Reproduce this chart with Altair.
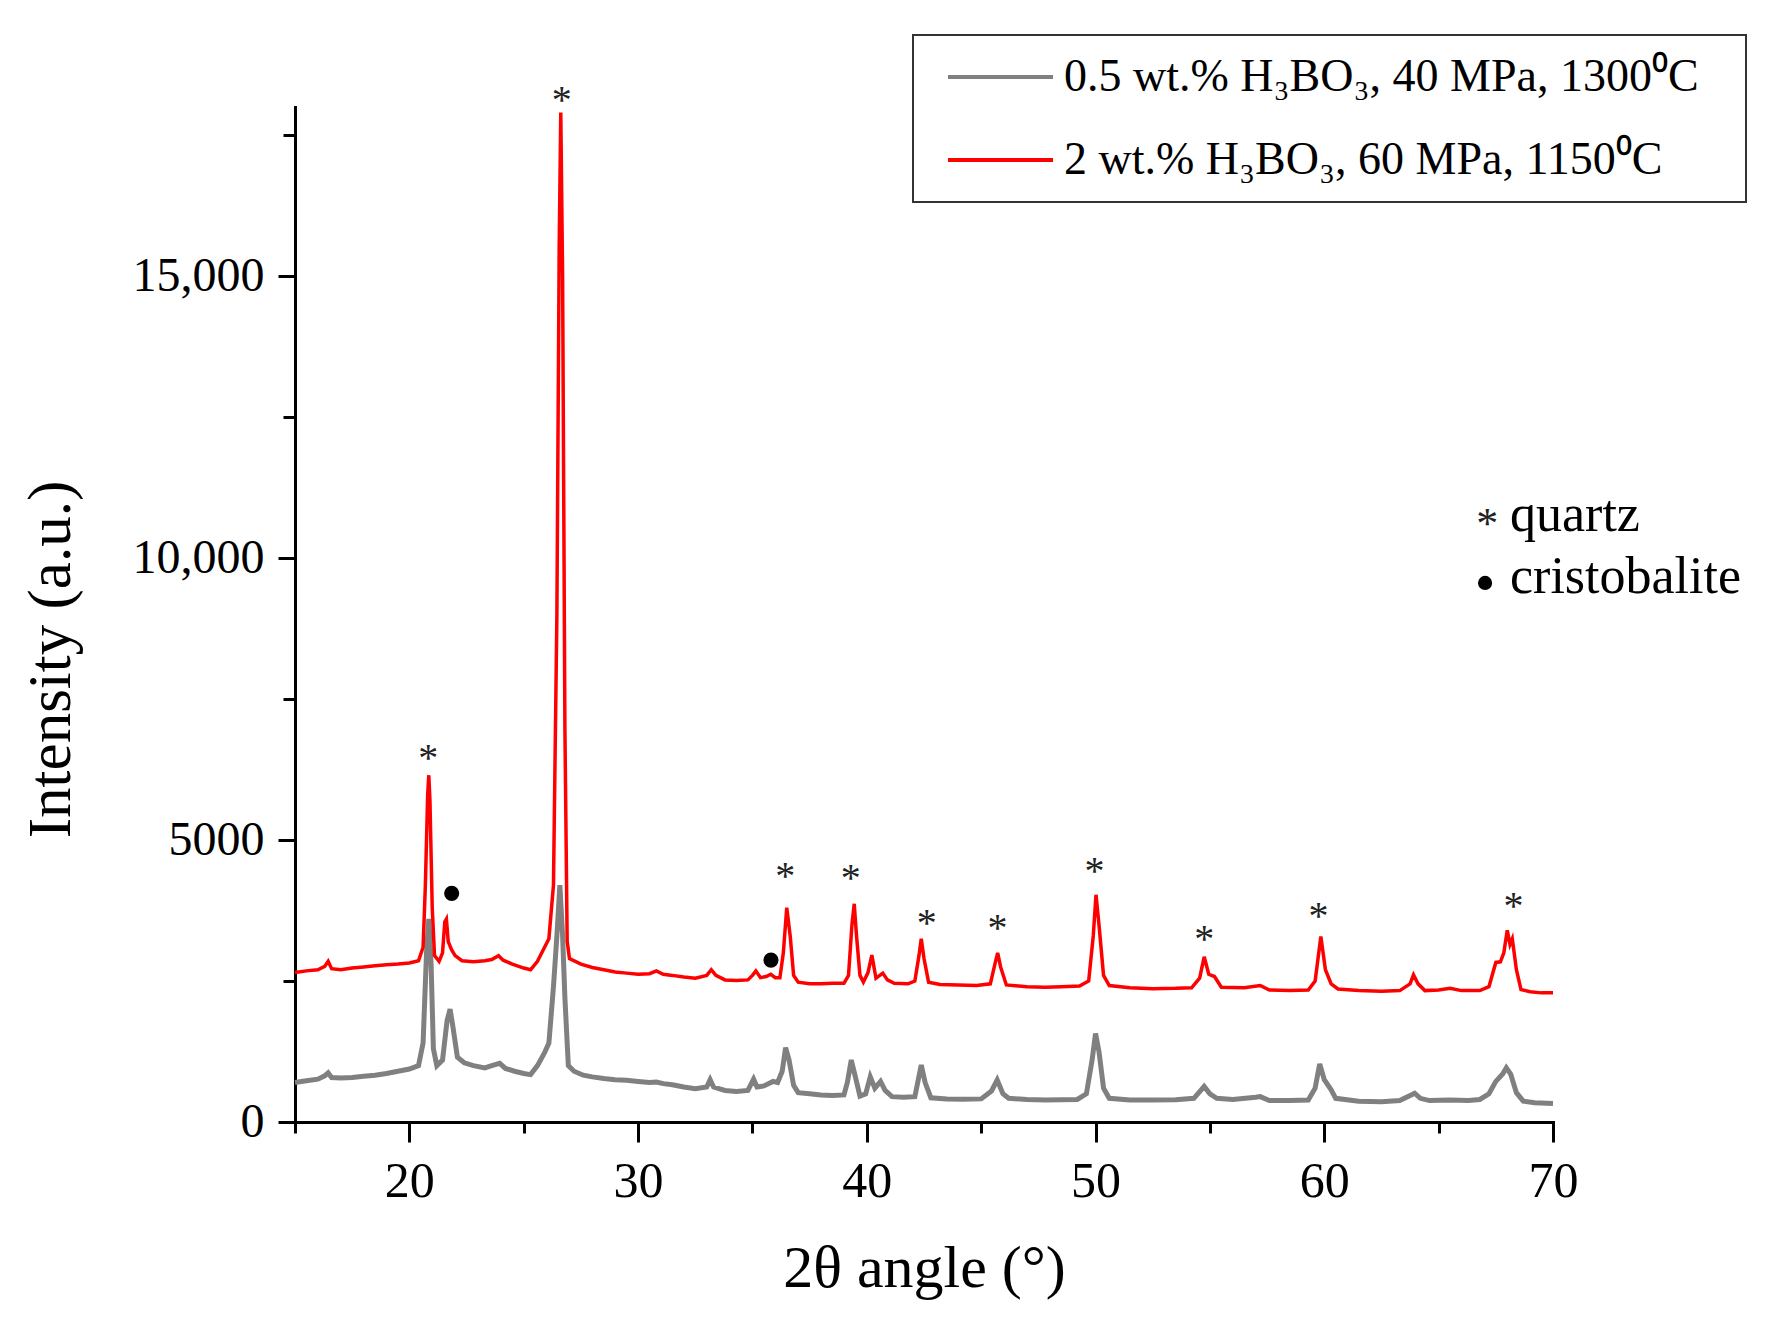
import altair as alt
import pandas as pd

SERIES = ["0.5 wt.% H₃BO₃, 40 MPa, 1300⁰C", "2 wt.% H₃BO₃, 60 MPa, 1150⁰C"]
COLORS = ["#808080", "#ff0000"]

gray_x = [15.0, 15.5, 16.0, 16.3, 16.45, 16.6, 17.0, 17.5, 18.0, 18.5, 19.0, 19.5, 20.0, 20.4, 20.6, 20.75,
          20.85, 20.95, 21.05, 21.2, 21.45, 21.65, 21.78, 21.9, 22.1, 22.4, 22.8, 23.3, 23.6, 23.95, 24.2,
          24.6, 25.0, 25.3, 25.6, 25.9, 26.1, 26.3, 26.45, 26.58, 26.7, 26.8, 26.95, 27.2, 27.6, 28.0, 28.5,
          29.0, 29.5, 30.0, 30.5, 30.8, 31.1, 31.5, 32.0, 32.5, 33.0, 33.15, 33.3, 33.8, 34.3, 34.8, 35.05,
          35.2, 35.5, 35.9, 36.1, 36.3, 36.45, 36.6, 36.8, 37.0, 37.5, 38.0, 38.5, 39.0, 39.15, 39.32, 39.5,
          39.7, 39.95, 40.15, 40.35, 40.6, 40.8, 41.1, 41.6, 42.1, 42.25, 42.38, 42.55, 42.8, 43.5, 44.2,
          45.0, 45.45, 45.7, 45.95, 46.2, 47.0, 47.8, 48.5, 49.2, 49.6, 49.85, 50.0, 50.15, 50.35, 50.6,
          51.5, 52.5, 53.5, 54.3, 54.6, 54.75, 55.0, 55.3, 56.0, 57.0, 57.2, 57.6, 58.5, 59.3, 59.6, 59.8,
          60.0, 60.3, 60.5, 61.5, 62.5, 63.3, 63.8, 63.95, 64.2, 64.6, 65.5, 66.3, 66.8, 67.2, 67.5, 67.8,
          67.96, 68.15, 68.4, 68.7, 69.2, 70.0]
gray_y = [700, 730, 760, 820, 870, 790, 780, 790, 810, 830, 860, 900, 940, 1000, 1400, 3000,
          3600, 2800, 1300, 1000, 1100, 1800, 2000, 1700, 1150, 1050, 1000, 960, 1000, 1040, 950,
          900, 860, 840, 1000, 1220, 1400, 2400, 3300, 4200, 3300, 2200, 1000, 900, 830, 800, 770,
          750, 740, 720, 700, 710, 680, 660, 620, 590, 620, 750, 620, 560, 540, 560, 760,
          620, 640, 720, 700, 900, 1320, 1100, 650, 520, 500, 480, 470, 480, 700, 1100, 800,
          460, 500, 800, 600, 720, 560, 450, 440, 450, 750, 1010, 700, 430, 410, 405,
          410, 550, 745, 500, 420, 400, 390, 395, 400, 500, 1100, 1570, 1250, 600, 420,
          390, 390, 395, 420, 560, 630, 500, 420, 400, 440, 450, 380, 380, 390, 600, 1030,
          750, 570, 420, 370, 360, 380, 480, 510, 420, 380, 390, 380, 400, 500, 720, 850,
          960, 850, 520, 370, 340, 330]

red_x = [15.0, 15.5, 16.0, 16.3, 16.45, 16.6, 17.0, 17.5, 18.0, 18.5, 19.0, 19.5, 20.0, 20.4, 20.6, 20.7,
         20.8, 20.85, 20.9, 21.0, 21.1, 21.3, 21.45, 21.55, 21.62, 21.7, 21.85, 22.0, 22.3, 22.8, 23.3,
         23.6, 23.9, 24.1, 24.5, 25.0, 25.3, 25.6, 25.85, 26.1, 26.3, 26.45, 26.55, 26.62, 26.7, 26.8,
         26.9, 27.0, 27.5, 28.0, 28.5, 29.0, 29.5, 30.0, 30.5, 30.8, 31.1, 31.5, 32.0, 32.5, 33.0, 33.2,
         33.4, 33.8, 34.3, 34.8, 35.0, 35.15, 35.35, 35.6, 35.8, 36.0, 36.2, 36.35, 36.5, 36.65, 36.8,
         37.0, 37.5, 38.0, 38.5, 39.0, 39.2, 39.35, 39.45, 39.55, 39.7, 39.85, 40.05, 40.22, 40.4, 40.7,
         40.9, 41.2, 41.8, 42.1, 42.28, 42.38, 42.5, 42.7, 43.2, 44.0, 44.8, 45.4, 45.6, 45.72, 45.85,
         46.1, 47.0, 47.8, 48.5, 49.3, 49.7, 49.9, 50.02, 50.15, 50.35, 50.6, 51.5, 52.5, 53.5, 54.2,
         54.55, 54.75, 54.95, 55.2, 55.5, 56.5, 57.2, 57.6, 58.5, 59.3, 59.6, 59.85, 60.05, 60.3, 60.6,
         61.5, 62.5, 63.3, 63.75, 63.9, 64.1, 64.4, 65.0, 65.5, 66.0, 66.8, 67.2, 67.5, 67.7, 67.85,
         68.0, 68.12, 68.22, 68.4, 68.6, 69.0, 69.5, 70.0]
red_y = [2650, 2680, 2700, 2760, 2850, 2720, 2700, 2730, 2750, 2770, 2790, 2800, 2820, 2860, 3100, 4200,
         5800, 6150, 5700, 3800, 2950, 2850, 3000, 3550, 3600, 3200, 3050, 2950, 2860, 2840, 2860,
         2880, 2950, 2870, 2800, 2730, 2700, 2850, 3050, 3250, 4200, 9000, 15500, 17900, 15000, 7000,
         3200, 2900, 2800, 2740, 2700, 2660, 2640, 2620, 2630, 2680, 2620, 2600, 2570, 2550, 2600, 2700,
         2600, 2520, 2510, 2520, 2600, 2680, 2560, 2580, 2620, 2560, 2560, 3000, 3800, 3300, 2600,
         2480, 2450, 2450, 2460, 2460, 2600, 3500, 3870, 3300, 2600, 2480, 2650, 2960, 2550, 2640,
         2520, 2460, 2450, 2500, 2950, 3250, 2900, 2480, 2440, 2430, 2420, 2450, 2800, 3000, 2750,
         2430, 2400, 2390, 2400, 2410, 2500, 3300, 4030, 3500, 2600, 2420, 2380, 2365, 2370, 2380,
         2550, 2930, 2620, 2580, 2390, 2380, 2420, 2340, 2330, 2340, 2500, 3290, 2700, 2450, 2360,
         2330, 2320, 2330, 2450, 2610, 2450, 2330, 2340, 2370, 2330, 2330, 2400, 2830, 2840, 3000,
         3400, 3150, 3250, 2700, 2350, 2310, 2290, 2290]

quartz_x = [20.83, 26.66, 36.43, 39.3, 42.62, 45.71, 49.95, 54.75, 59.75, 68.27]
quartz_y = [6596, 18268, 4503, 4468, 3670, 3582, 4587, 3387, 3800, 3977]
cristo_x = [21.85, 35.81]
cristo_y = [4055, 2872]

# phase key (top right): marker + word
key_labels = ["quartz", "cristobalite"]
key_x = [68.12, 68.12]
key_y = [10482, 9380]
key_star_x = [67.13]
key_star_y = [10763]
key_dot_x = [67.03]
key_dot_y = [9560]

X_TICKS = [15, 20, 25, 30, 35, 40, 45, 50, 55, 60, 65, 70]
Y_TICKS = [0, 2500, 5000, 7500, 10000, 12500, 15000, 17500]

df_gray = pd.DataFrame({"x": gray_x, "y": gray_y, "series": SERIES[0]})
df_red = pd.DataFrame({"x": red_x, "y": red_y, "series": SERIES[1]})
df_q = pd.DataFrame({"x": quartz_x, "y": quartz_y})
df_c = pd.DataFrame({"x": cristo_x, "y": cristo_y})
df_k = pd.DataFrame({"x": key_x, "y": key_y, "label": key_labels})
df_ks = pd.DataFrame({"x": key_star_x, "y": key_star_y})
df_kd = pd.DataFrame({"x": key_dot_x, "y": key_dot_y})

FONT = "Liberation Serif"

xscale = alt.Scale(domain=[15, 70], nice=False, zero=False)
yscale = alt.Scale(domain=[0, 18000], nice=False, zero=False)

xaxis = alt.Axis(
    values=X_TICKS,
    labelExpr="datum.value % 10 === 0 ? format(datum.value, 'd') : ''",
    tickSize={"condition": {"test": "datum.value % 10 === 0", "value": 20}, "value": 11},
    labelPadding=14,
    labelFontSize=50,
    labelFlush=False,
    labelOverlap=False,
    title="2θ angle (°)",
    titleFontSize=60,
    titlePadding=33,
)
yaxis = alt.Axis(
    values=Y_TICKS,
    labelExpr="datum.value % 5000 === 0 ? (datum.value >= 10000 ? format(datum.value, ',') : format(datum.value, 'd')) : ''",
    tickSize={"condition": {"test": "datum.value % 5000 === 0", "value": 17}, "value": 12},
    labelPadding=14,
    labelFontSize=48,
    labelFlush=False,
    labelOverlap=False,
    title="Intensity (a.u.)",
    titleFontSize=61,
    titlePadding=50,
    titleY=552,
)

color = alt.Color(
    "series:N",
    scale=alt.Scale(domain=SERIES, range=COLORS),
    title=None,
    legend=alt.Legend(
        orient="none",
        legendX=618,
        legendY=-72,
        direction="vertical",
        symbolType="M-0.35,0H4.9M38.2,0",
        symbolSize=1600,
        symbolStrokeWidth=4,
        labelFont=FONT,
        labelFontSize=46,
        labelColor="black",
        labelLimit=1200,
        labelOffset=86,
        padding=19,
        rowPadding=37,
        strokeColor="#333333",
    ),
)

X = alt.X("x:Q", scale=xscale, axis=xaxis)
Y = alt.Y("y:Q", scale=yscale, axis=yaxis)

gray = alt.Chart(df_gray).mark_line(strokeWidth=5).encode(x=X, y=Y, color=color)
red = alt.Chart(df_red).mark_line(strokeWidth=3.5).encode(x=X, y=Y, color=color)
stars = alt.Chart(df_q).mark_text(text="*", font=FONT, fontSize=40, color="#222222",
                                  baseline="alphabetic", dy=21).encode(x=X, y=Y)
dots = alt.Chart(df_c).mark_point(filled=True, shape="circle", size=230, color="black",
                                  opacity=1).encode(x=X, y=Y)
key = alt.Chart(df_k).mark_text(font=FONT, fontSize=52, color="black", align="left",
                                baseline="alphabetic").encode(x=X, y=Y, text="label:N")
key_star = alt.Chart(df_ks).mark_text(text="*", font=FONT, fontSize=44, color="#222222",
                                      baseline="alphabetic", dy=23).encode(x=X, y=Y)
key_dot = alt.Chart(df_kd).mark_point(filled=True, shape="circle", size=200, color="black",
                                      opacity=1).encode(x=X, y=Y)

chart = alt.layer(gray, red, stars, dots, key, key_star, key_dot).properties(
    width=1258,
    height=1015,
    padding={"left": 287, "top": 99, "right": 205, "bottom": 195},
    autosize=alt.AutoSizeParams(type="none"),
).configure_view(stroke="transparent").configure_axis(
    domainColor="black",
    domainWidth=3,
    domainCap="square",
    tickColor="black",
    tickWidth=3,
    labelFont=FONT,
    titleFont=FONT,
    labelColor="black",
    titleColor="black",
    titleFontWeight="normal",
    grid=False,
).configure_legend(strokeWidth=2)

chart.save("out.html", embed_options={"renderer": "svg", "actions": False})
